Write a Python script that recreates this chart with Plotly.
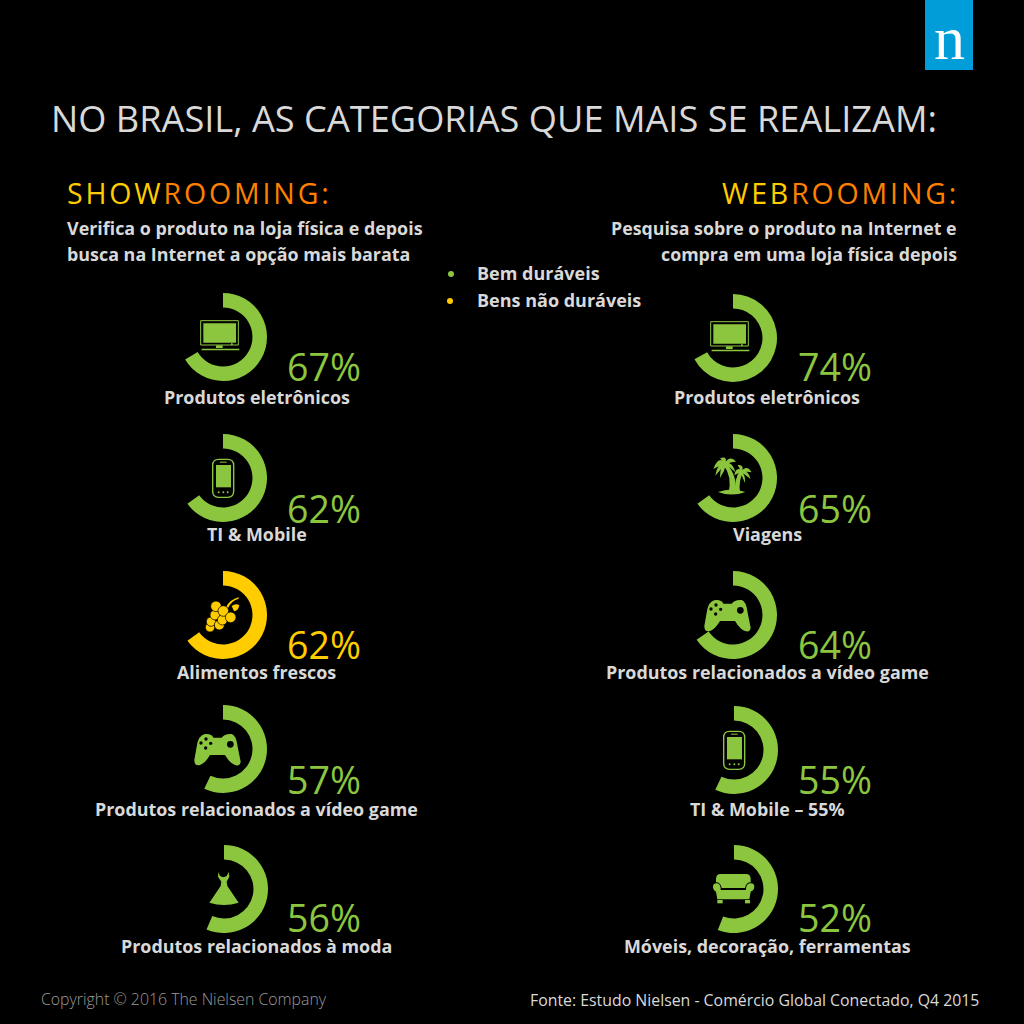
import plotly.graph_objects as go


GREEN = '#8CC63F'
YELLOW = '#FFCC00'
ORANGE = '#FF8000'
GREY = '#D9D9D9'
FONT = 'Open Sans'

# name, printed value, drawn arc (the arcs in the picture do not follow the printed value), colour, icon, cx, cy, label y, value y
left = [
    ('Produtos eletrônicos', 67, 66.5, GREEN, 'TV', 223, 337, 397, 366),
    ('TI & Mobile', 62, 65, GREEN, 'PHONE', 223, 478, 534, 508),
    ('Alimentos frescos', 62, 65, YELLOW, 'GRAPES', 223, 615, 672, 644),
    ('Produtos relacionados a vídeo game', 57, 57, GREEN, 'PAD', 223, 749, 809, 779),
    ('Produtos relacionados à moda', 56, 56.5, GREEN, 'DRESS', 224, 889, 946, 917),
]
right = [
    ('Produtos eletrônicos', 74, 67, GREEN, 'TV', 733, 338, 397, 366),
    ('Viagens', 65, 65, GREEN, 'PALM', 733, 478, 534, 508),
    ('Produtos relacionados a vídeo game', 64, 65.5, GREEN, 'PAD', 733, 615, 672, 644),
    ('TI & Mobile – 55%', 55, 57, GREEN, 'PHONE', 734, 750, 809, 779),
    ('Móveis, decoração, ferramentas', 52, 56, GREEN, 'SOFA', 734, 889, 946, 917),
]


def Move(path, ox, oy, cx, cy):
    # icon paths are written in 3x crop coordinates around the origin ox, oy
    out = []
    n = 0
    for tok in path.split():
        if tok[0].isalpha():
            out.append(tok[0])
            tok = tok[1:]
            if tok == '':
                continue
        if n % 2 == 0:
            out.append(str(round(cx + (float(tok) - ox) / 3, 2)))
        else:
            out.append(str(round(cy + (float(tok) - oy) / 3, 2)))
        n += 1
    return ' '.join(out)


def Shape(path, color):
    return dict(type='path', path=path, fillcolor=color, line=dict(width=0), xref='x', yref='y', layer='above')


def Dot(x, y, r, ox, oy, cx, cy, color, line=None):
    x0 = cx + (x - r - ox) / 3
    x1 = cx + (x + r - ox) / 3
    y0 = cy + (y - r - oy) / 3
    y1 = cy + (y + r - oy) / 3
    return dict(type='circle', x0=x0, x1=x1, y0=y0, y1=y1, fillcolor=color, xref='x', yref='y', layer='above',
                line=dict(width=line or 0, color='black'))


def Box(x0, y0, x1, y1, ox, oy, cx, cy, color, outline=False):
    return dict(type='rect', x0=cx + (x0 - ox) / 3, x1=cx + (x1 - ox) / 3, y0=cy + (y0 - oy) / 3, y1=cy + (y1 - oy) / 3,
                fillcolor=color if not outline else 'rgba(0,0,0,0)', xref='x', yref='y', layer='above',
                line=dict(width=1 if outline else 0, color=color))


def TV(cx, cy, color):
    ox, oy = 219, 171
    return [
        Box(152, 122, 265, 195, ox, oy, cx, cy, color, outline=True),
        Box(160, 130, 258, 188, ox, oy, cx, cy, color),
        Box(243, 190, 248, 195, ox, oy, cx, cy, color),
        Box(198, 196, 218, 204, ox, oy, cx, cy, color),
        Box(155, 206, 268, 211, ox, oy, cx, cy, color),
    ]


def PHONE(cx, cy, color):
    ox, oy = 221, 594
    body = 'M208 538 L235 538 Q253 538 253 556 L253 634 Q253 652 235 652 L208 652 Q190 652 190 634 L190 556 Q190 538 208 538 Z'
    shell = Shape(Move(body, ox, oy, cx, cy), 'rgba(0,0,0,0)')
    shell['line'] = dict(width=1.4, color=color)
    return [
        shell,
        Box(200, 555, 245, 622, ox, oy, cx, cy, color),
        Box(212, 545, 232, 548, ox, oy, cx, cy, color),
        Dot(208, 637, 3, ox, oy, cx, cy, color),
        Dot(222, 637, 3, ox, oy, cx, cy, color),
        Dot(235, 637, 3, ox, oy, cx, cy, color),
    ]


def GRAPES(cx, cy, color):
    ox, oy = 219, 165
    stem = Shape(Move('M228 142 Q240 118 266 112 L266 116 Q245 122 234 144 Z', ox, oy, cx, cy), color)
    leaf = Shape(Move('M245 138 Q258 128 268 136 Q265 152 252 154 Z', ox, oy, cx, cy), color)
    shapes = [stem, leaf]
    for x, y, r in [(180, 202, 14), (183, 185, 14), (208, 195, 15), (195, 165, 15), (217, 180, 15), (198, 139, 16), (220, 153, 16), (242, 172, 16)]:
        shapes.append(Dot(x, y, r, ox, oy, cx, cy, color, line=0.7))
    return shapes


def PAD(cx, cy, color):
    ox, oy = 219, 567
    body = ('M165 522 Q185 520 190 533 L215 533 Q225 520 245 522 Q258 525 263 560 L272 605 Q270 620 255 615 '
            'Q240 610 225 585 L180 585 Q165 610 150 615 Q133 620 133 600 L140 560 Q145 525 165 522 Z')
    shapes = [Shape(Move(body, ox, oy, cx, cy), color), Dot(241, 553, 10, ox, oy, cx, cy, 'black')]
    for x, y in [(153, 549), (168, 537), (182, 550), (167, 564)]:
        shapes.append(Dot(x, y, 5, ox, oy, cx, cy, 'black'))
    return shapes


def DRESS(cx, cy, color):
    ox, oy = 222, 987
    body = ('M205 936 L210 948 Q220 955 230 948 L236 936 L238 950 L230 965 L232 978 L266 1028 Q222 1042 178 1028 '
            'L212 978 L214 965 L204 950 Z')
    return [Shape(Move(body, ox, oy, cx, cy), color)]


def PALM(cx, cy, color):
    ox, oy = 159, 145
    leaves = [
        'M135 98 Q115 78 100 118 Q118 108 135 104 Z',
        'M135 98 Q112 100 106 138 Q122 118 137 104 Z',
        'M133 100 Q120 108 120 145 Q134 124 139 102 Z',
        'M137 100 Q142 78 120 86 Q128 92 131 102 Z',
        'M133 102 Q150 74 168 96 Q150 96 137 106 Z',
        'M135 98 Q158 96 166 128 Q150 112 133 104 Z',
        'M133 100 Q154 110 152 142 Q142 122 131 104 Z',
        'M185 122 Q168 110 163 137 Q175 130 187 128 Z',
        'M183 124 Q170 130 168 160 Q182 144 189 126 Z',
        'M187 124 Q192 103 173 106 Q180 115 181 126 Z',
        'M183 126 Q200 103 215 128 Q200 124 187 130 Z',
        'M185 122 Q205 123 212 148 Q198 136 183 128 Z',
        'M183 124 Q197 135 195 160 Q188 144 181 128 Z',
        'M130 105 Q157 140 146 190 L165 190 Q175 140 138 100 Z',
        'M182 122 Q162 150 165 190 L180 190 Q175 152 190 128 Z',
    ]
    shapes = [Shape(Move(p, ox, oy, cx, cy), color) for p in leaves]
    shapes.append(Shape(Move('M114 187 Q155 172 196 187 Q155 202 114 187 Z', ox, oy, cx, cy), color))
    return shapes


def SOFA(cx, cy, color):
    ox, oy = 162, 147
    back = 'M122 102 L198 102 Q212 102 212 118 L212 127 Q198 127 195 144 L125 144 Q122 127 108 127 L108 118 Q108 102 122 102 Z'
    base = ('M99 140 Q99 130 110 130 Q120 130 122 145 L122 150 L198 150 L198 145 Q200 130 212 130 Q223 130 223 140 '
            'Q223 150 212 155 L208 178 L112 178 L108 155 Q99 150 99 140 Z')
    return [
        Shape(Move(back, ox, oy, cx, cy), color),
        Shape(Move(base, ox, oy, cx, cy), color),
        Box(112, 180, 128, 190, ox, oy, cx, cy, color),
        Box(195, 180, 210, 190, ox, oy, cx, cy, color),
    ]


icons = {'TV': TV, 'PHONE': PHONE, 'GRAPES': GRAPES, 'PAD': PAD, 'DRESS': DRESS, 'PALM': PALM, 'SOFA': SOFA}


def Label(x, y, text, size, color=GREY, anchor='left', weight=400, family=FONT):
    return dict(x=x, y=y, text=text, xref='x', yref='y', showarrow=False, xanchor=anchor, yanchor='middle',
                font=dict(family=family, size=size, color=color, weight=weight), align=anchor)


def Spaced(text):
    return '\u200a'.join(text) + '\u200a'


fig = go.Figure()
notes = []
shapes = []
R = 44

for rows, px, lx in [(left, 285, 256.5), (right, 796, 767)]:
    for name, value, arc, color, icon, cx, cy, ly, py in rows:
        fig.add_trace(go.Pie(values=[arc, 100 - arc], sort=False, direction='clockwise', rotation=0, hole=0.67,
                             marker=dict(colors=[color, 'rgba(0,0,0,0)'], line=dict(width=0)),
                             textinfo='none', hoverinfo='skip', showlegend=False,
                             domain=dict(x=[(cx - R) / 1024, (cx + R) / 1024], y=[1 - (cy + R) / 1024, 1 - (cy - R) / 1024])))
        shapes += icons[icon](cx, cy, color)
        notes.append(Label(px, py, str(value) + '%', 37.5, color=color))
        notes.append(Label(lx, ly, name, 17.9, anchor='center', weight=700))

# legend
fig.add_trace(go.Scatter(x=[451, 450], y=[274, 301], mode='markers', marker=dict(size=6, color=[GREEN, YELLOW]),
                         hoverinfo='skip', showlegend=False))
notes.append(Label(475, 273, 'Bem duráveis', 18, weight=700))
notes.append(Label(475, 300, 'Bens não duráveis', 18, weight=700))

# header
notes.append(Label(49, 118, 'NO BRASIL, AS CATEGORIAS QUE MAIS SE REALIZAM:', 36.2, weight=400))
notes.append(Label(65, 193, '<span style="color:%s">%s</span><span style="color:%s">%s</span>' % (YELLOW, Spaced('SHOW'), ORANGE, Spaced('ROOMING:')), 28.5))
notes.append(Label(961, 193, '<span style="color:%s">%s</span><span style="color:%s">%s</span>' % (YELLOW, Spaced('WEB'), ORANGE, Spaced('ROOMING:')), 28.5, anchor='right'))
notes.append(Label(65, 228, 'Verifica o produto na loja física e depois', 17.9, weight=700))
notes.append(Label(65, 254, 'busca na Internet a opção mais barata', 17.9, weight=700))
notes.append(Label(959, 228, 'Pesquisa sobre o produto na Internet e', 17.8, anchor='right', weight=700))
notes.append(Label(959, 254, 'compra em uma loja física depois', 17.8, anchor='right', weight=700))

# footer
notes.append(Label(39, 999, 'Copyright © 2016 The Nielsen Company', 15.85, color='#9A9A9A', weight=300))
notes.append(Label(528, 1000, 'Fonte: Estudo Nielsen - Comércio Global Conectado, Q4 2015', 15.85, color=GREY))

# logo
shapes.append(dict(type='rect', x0=925, x1=973, y0=0, y1=70, fillcolor='#009DD9', line=dict(width=0), xref='x', yref='y', layer='below'))
notes.append(Label(949, 38, 'n', 62, color='white', anchor='center', family='Liberation Serif'))

fig.update_layout(
    width=1024,
    height=1024,
    margin=dict(l=0, r=0, t=0, b=0),
    paper_bgcolor='black',
    plot_bgcolor='black',
    xaxis=dict(range=[0, 1024], visible=False, domain=[0, 1]),
    yaxis=dict(range=[1024, 0], visible=False, domain=[0, 1]),
    shapes=shapes,
    annotations=notes,
    showlegend=False
)

fig.write_html('out.html', config=dict(displayModeBar=False), post_script='document.body.style.margin = "0";')
